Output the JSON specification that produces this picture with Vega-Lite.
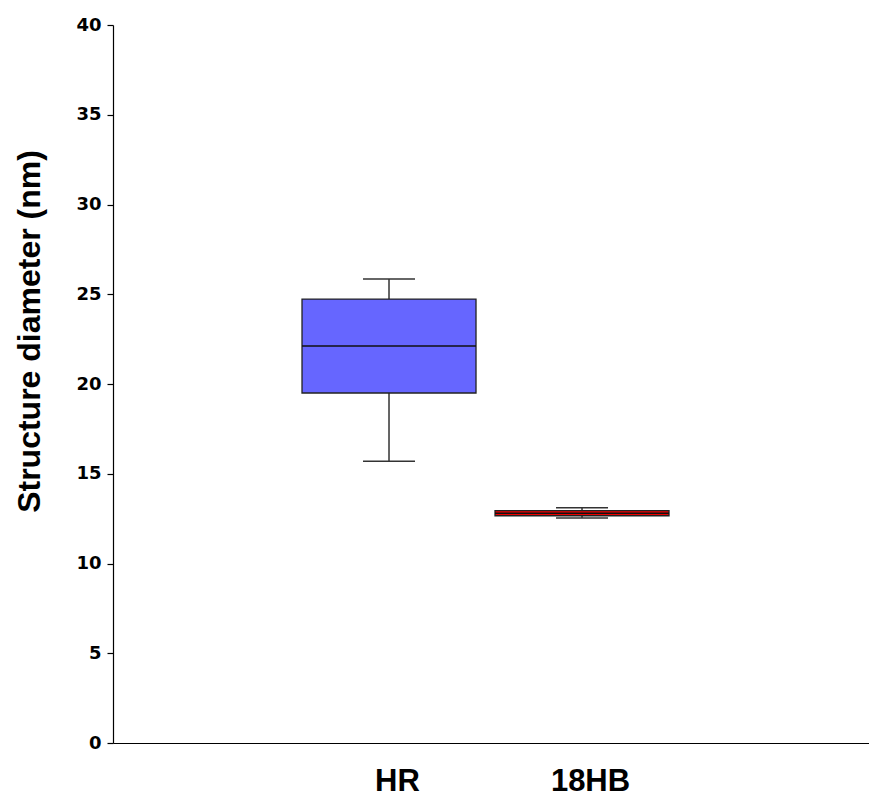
{
  "$schema": "https://vega.github.io/schema/vega-lite/v6.json",
  "width": 756,
  "height": 718,
  "autosize": {"type": "none"},
  "padding": {"left": 113, "top": 25, "right": 0, "bottom": 56},
  "background": "white",
  "config": {"view": {"stroke": null}},
  "data": {"values": [
    {"group": "HR", "lower": 15.7, "q1": 19.5, "median": 22.12, "q3": 24.73, "upper": 25.85},
    {"group": "18HB", "lower": 12.53, "q1": 12.66, "median": 12.8, "q3": 12.95, "upper": 13.1}
  ]},
  "encoding": {
    "x": {
      "field": "group", "type": "nominal",
      "scale": {"type": "point", "domain": ["_a", "HR", "18HB", "_b"], "padding": 0.4585, "align": 0.469},
      "axis": {
        "title": null, "labelAngle": 0, "ticks": false,
        "labelExpr": "datum.value == 'HR' || datum.value == '18HB' ? datum.value : ''",
        "domainColor": "#000", "domainWidth": 1.2,
        "labelFont": "Liberation Sans", "labelFontWeight": "bold", "labelFontSize": 31,
        "labelColor": "#000", "labelPadding": 23, "labelOffset": 8
      }
    }
  },
  "layer": [
    {
      "mark": {"type": "rule", "color": "#333", "strokeWidth": 1.5},
      "encoding": {
        "y": {"field": "lower", "type": "quantitative",
          "scale": {"domain": [0, 40], "nice": false, "zero": true},
          "axis": {
            "title": "Structure diameter (nm)",
            "values": [0, 5, 10, 15, 20, 25, 30, 35, 40],
            "grid": false, "domainColor": "#000", "domainWidth": 1.2,
            "tickColor": "#000", "tickSize": 6, "tickWidth": 1.2,
            "labelFont": "DejaVu Sans", "labelFontWeight": "bold", "labelFontSize": 18,
            "labelColor": "#000", "labelPadding": 6,
            "titleFont": "Liberation Sans", "titleFontWeight": "bold", "titleFontSize": 32,
            "titleColor": "#000", "titleAngle": -90, "titleX": -74, "titleY": 306,
            "titleAlign": "center", "titleBaseline": "alphabetic"
          }
        },
        "y2": {"field": "q1"}
      }
    },
    {
      "mark": {"type": "rule", "color": "#333", "strokeWidth": 1.5},
      "encoding": {
        "y": {"field": "q3", "type": "quantitative"},
        "y2": {"field": "upper"}
      }
    },
    {
      "mark": {"type": "bar", "size": 174, "stroke": "#222", "strokeWidth": 1.3},
      "encoding": {
        "y": {"field": "q1", "type": "quantitative"},
        "y2": {"field": "q3"},
        "fill": {"field": "group", "type": "nominal",
          "scale": {"domain": ["HR", "18HB"], "range": ["#6666ff", "#ee0000"]},
          "legend": null}
      }
    },
    {
      "mark": {"type": "tick", "size": 174, "thickness": 1.5, "color": "#111", "opacity": 1},
      "encoding": {"y": {"field": "median", "type": "quantitative"}}
    },
    {
      "mark": {"type": "tick", "size": 52, "thickness": 1.5, "color": "#333", "opacity": 1},
      "encoding": {"y": {"field": "upper", "type": "quantitative"}}
    },
    {
      "mark": {"type": "tick", "size": 52, "thickness": 1.5, "color": "#333", "opacity": 1},
      "encoding": {"y": {"field": "lower", "type": "quantitative"}}
    }
  ]
}
